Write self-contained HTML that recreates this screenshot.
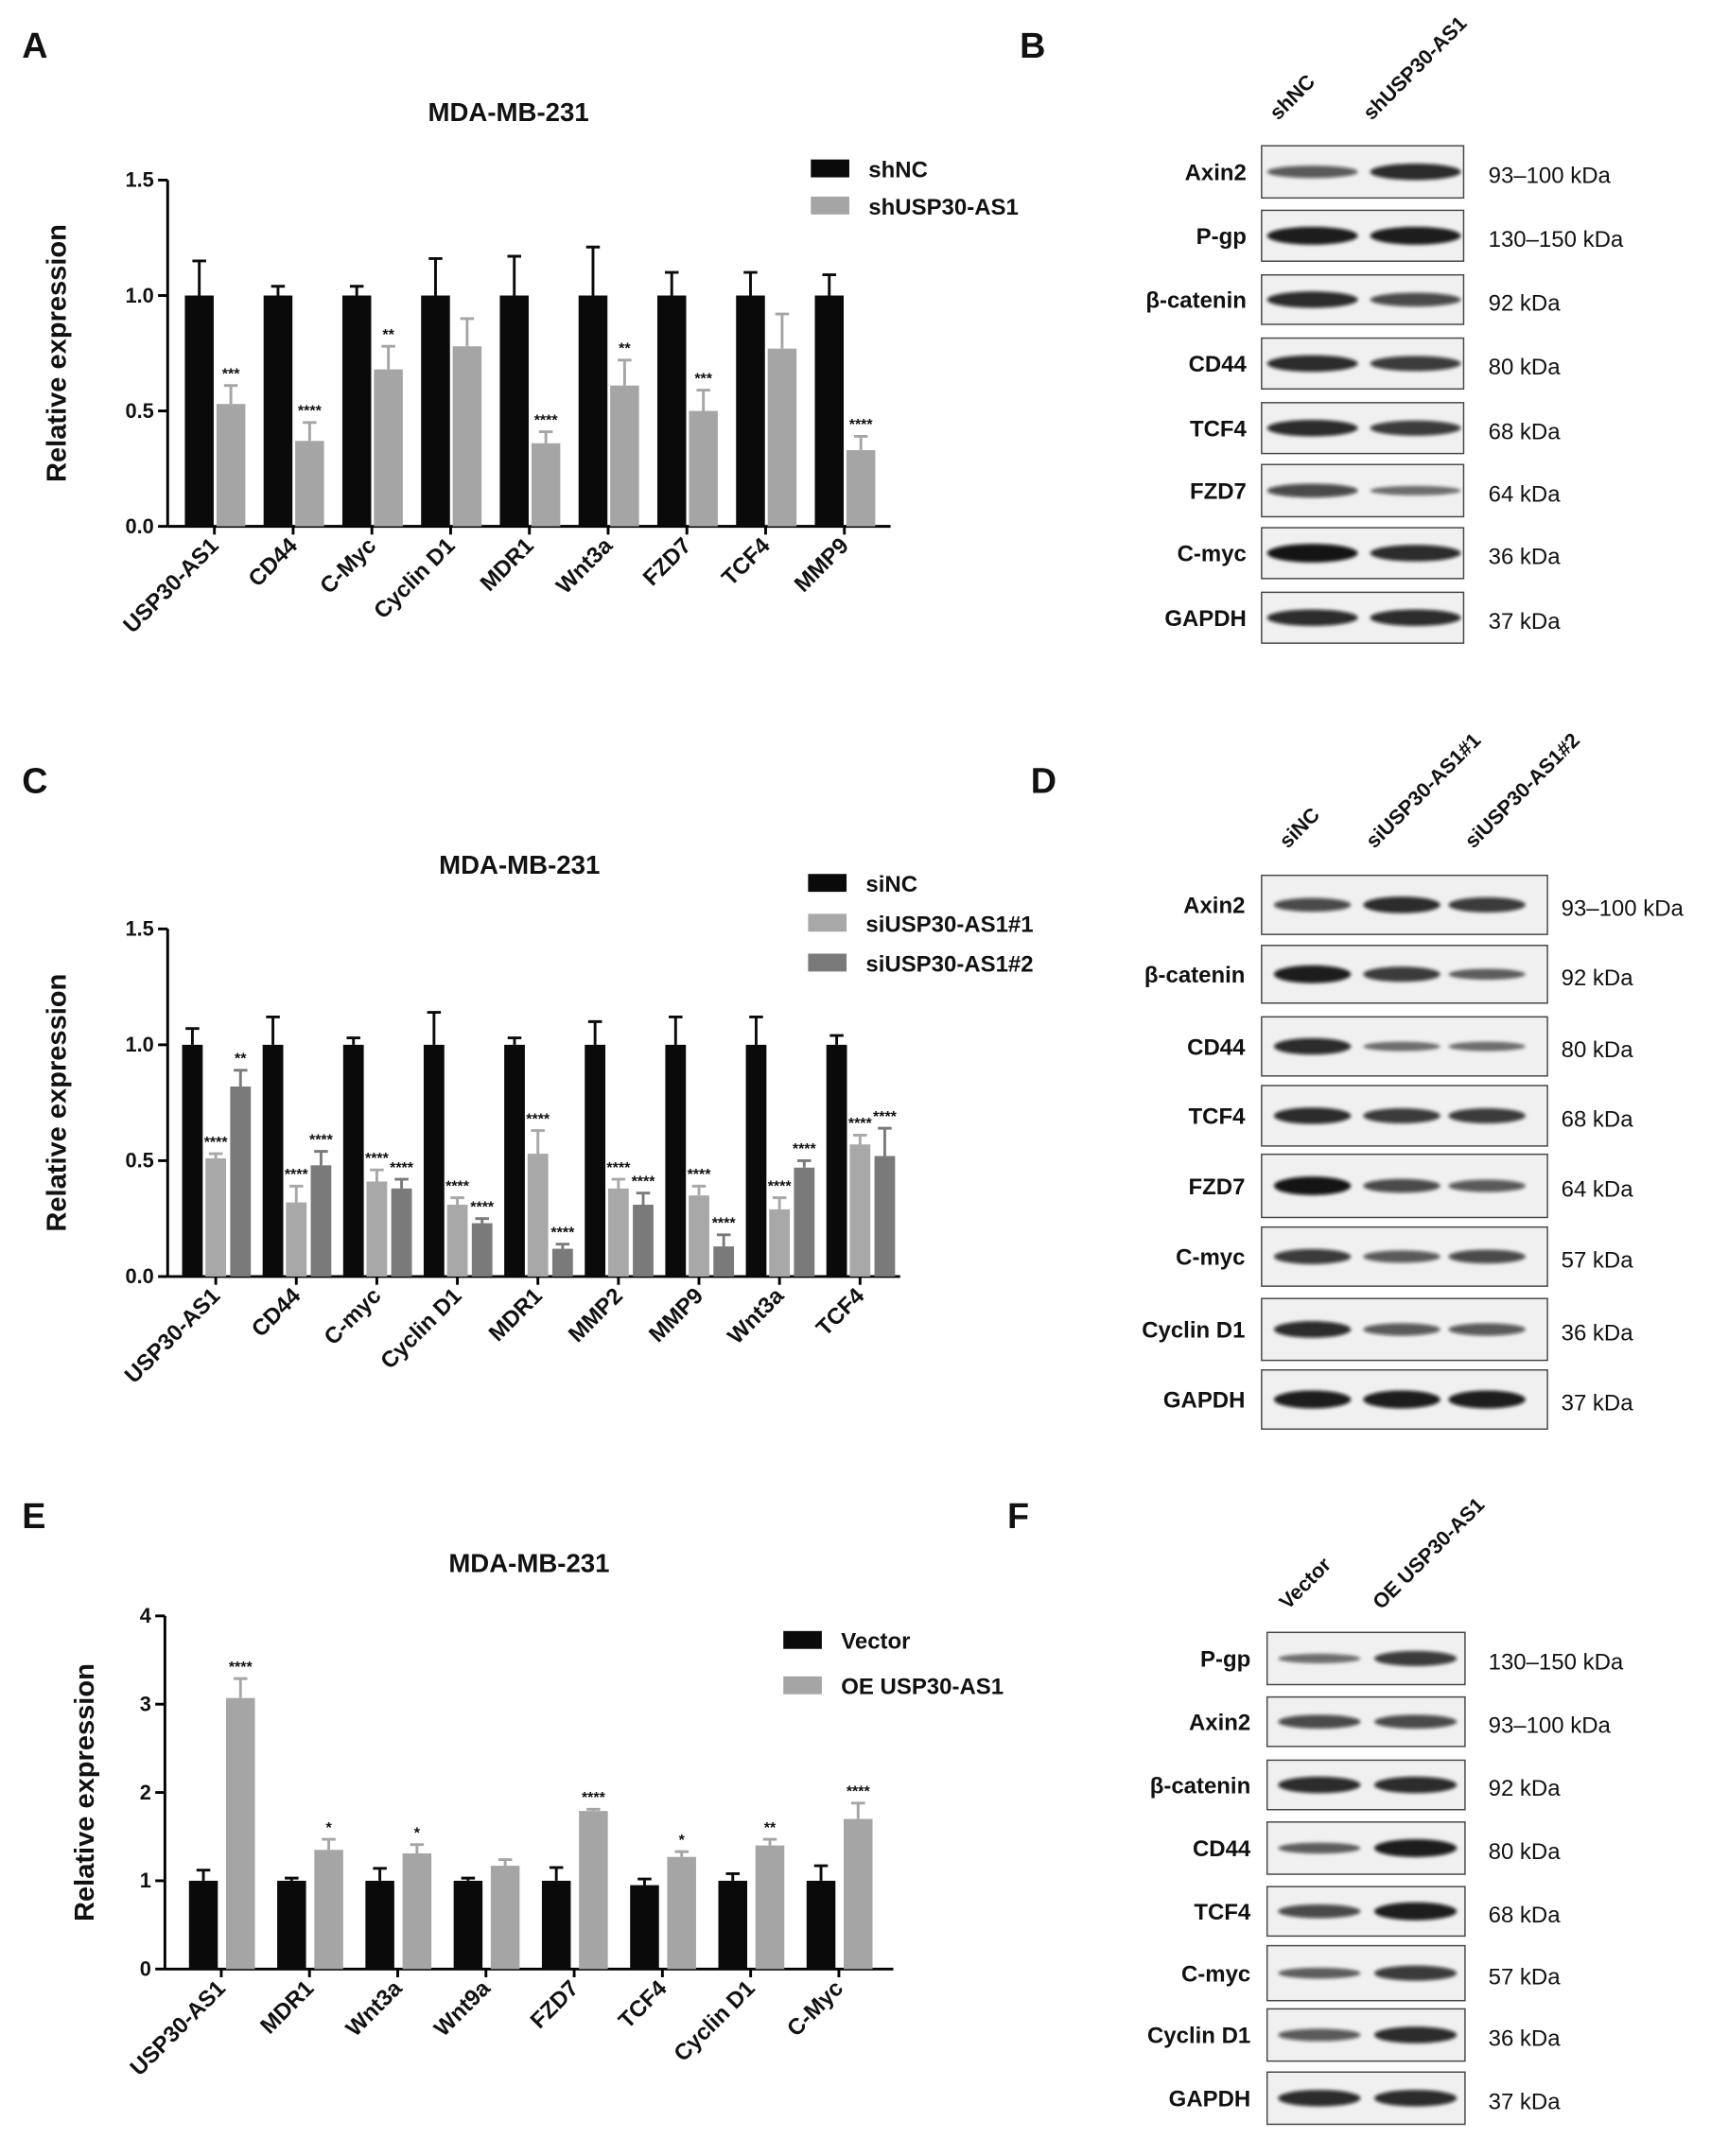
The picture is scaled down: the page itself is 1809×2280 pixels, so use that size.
<!DOCTYPE html>
<html><head><meta charset="utf-8">
<style>
html,body{margin:0;padding:0;background:#fff;}
svg{display:block;font-family:"Liberation Sans",Arial,sans-serif;}
</style></head>
<body>
<svg id="fig" width="1809" height="2280" viewBox="0 0 1245 1569" xmlns="http://www.w3.org/2000/svg">
<defs><filter id="blur" x="-20%" y="-50%" width="140%" height="200%"><feGaussianBlur stdDeviation="1.3"/></filter></defs>
<g id="root"></g>
</svg>
<script>
// ---- Panel A data ----
const catsA = ["USP30-AS1","CD44","C-Myc","Cyclin D1","MDR1","Wnt3a","FZD7","TCF4","MMP9"];
const shNC = [1,1,1,1,1,1,1,1,1];
const shNCErr = [0.15,0.04,0.04,0.16,0.17,0.21,0.1,0.1,0.09];
const shUSP = [0.53,0.37,0.68,0.78,0.36,0.61,0.5,0.77,0.33];
const shUSPErr = [0.08,0.08,0.1,0.12,0.05,0.11,0.09,0.15,0.06];
const sigA = ["***","****","**","","****","**","***","","****"];
const ticksA = [0,0.5,1.0,1.5];
// ---- Panel C data ----
const catsC = ["USP30-AS1","CD44","C-myc","Cyclin D1","MDR1","MMP2","MMP9","Wnt3a","TCF4"];
const siNC = [1,1,1,1,1,1,1,1,1];
const siNCErr = [0.07,0.12,0.03,0.14,0.03,0.1,0.12,0.12,0.04];
const si1 = [0.51,0.32,0.41,0.31,0.53,0.38,0.35,0.29,0.57];
const si1Err = [0.02,0.07,0.05,0.03,0.1,0.04,0.04,0.05,0.04];
const si2 = [0.82,0.48,0.38,0.23,0.12,0.31,0.13,0.47,0.52];
const si2Err = [0.07,0.06,0.04,0.02,0.02,0.05,0.05,0.03,0.12];
const sigC1 = ["****","****","****","****","****","****","****","****","****"];
const sigC2 = ["**","****","****","****","****","****","****","****","****"];
const ticksC = [0,0.5,1.0,1.5];
// ---- Panel E data ----
const catsE = ["USP30-AS1","MDR1","Wnt3a","Wnt9a","FZD7","TCF4","Cyclin D1","C-Myc"];
const vec = [1,1,1,1,1,0.95,1,1];
const vecErr = [0.12,0.03,0.14,0.03,0.15,0.07,0.08,0.17];
const oe = [3.07,1.35,1.31,1.17,1.79,1.27,1.4,1.7];
const oeErr = [0.22,0.12,0.1,0.07,0.02,0.06,0.07,0.18];
const sigE = ["****","*","*","","****","*","**","****"];
const ticksE = [0,1,2,3,4];

const NS="http://www.w3.org/2000/svg";
const root=document.getElementById('root');
function mk(tag,attrs,parent,text){const e=document.createElementNS(NS,tag);for(const k in attrs)e.setAttribute(k,attrs[k]);if(text!==undefined)e.textContent=text;(parent||root).appendChild(e);return e;}

function txt(x,y,s,size,opts,name){
  const t=mk('text',Object.assign({x:x,y:y,'font-size':size,'font-weight':'bold',fill:'#111'},opts||{}),root,s);
  
  
  return t;
}

function barChart(cfg){
  const {x0,x1,y0,yTop,maxV,ticks,cats,series,colors,errs,sigs,start,step,offsets,bw,title,titleX,titleY,catLabelY} = cfg;
  const ys=v=>y0-(v/maxV)*(y0-yTop);
  const g=mk('g',{});
  
  
  const ax=mk('line',{x1:x0,y1:yTop,x2:x0,y2:y0,stroke:'#000','stroke-width':2},g);
  
  
  const axx=mk('line',{x1:x0,y1:y0,x2:x1,y2:y0,stroke:'#000','stroke-width':2},g);
  
  
  ticks.forEach(t=>{
    const tl=mk('line',{x1:x0-7,y1:ys(t),x2:x0,y2:ys(t),stroke:'#000','stroke-width':2},g);
    
    
    txt(x0-10,ys(t)+5,cfg.fmt(t),15,{'text-anchor':'end'},'y-tick-label');
  });
  cats.forEach((c,i)=>{
    const cx=start+i*step;
    const tk=mk('line',{x1:cx+cfg.tickOff,y1:y0,x2:cx+cfg.tickOff,y2:y0+6,stroke:'#000','stroke-width':2},g);
    
    
    txt(cx+cfg.tickOff+4,catLabelY,c,16.5,{'text-anchor':'end',transform:`rotate(-45 ${cx+cfg.tickOff+4} ${catLabelY})`},'x-tick-label');
    series.forEach((s,k)=>{
      const bx=cx+offsets[k]-bw/2, v=s[i], top=ys(v);
      const r=mk('rect',{x:bx,y:top,width:bw,height:y0-top,fill:colors[k]},g);
      
      
      const et=ys(v+errs[k][i]);
      const el=mk('path',{d:`M${bx+bw/2},${top}V${et}M${bx+bw/2-5},${et}H${bx+bw/2+5}`,stroke:colors[k],'stroke-width':2,fill:'none'},g);
      
      
      if(sigs[k] && sigs[k][i]) txt(bx+bw/2,et-5,sigs[k][i],11,{'text-anchor':'middle'},'significance');
    });
  });
  txt(titleX,titleY,title,19,{'text-anchor':'middle'},'chart-title');
  txt(0,0,'Relative expression',20,{'text-anchor':'middle',transform:`translate(${cfg.ylx} ${(y0+yTop)/2}) rotate(-90)`},'y-axis-title');
  cfg.legend.forEach((l,k)=>{
    const r=mk('rect',{x:cfg.legX,y:cfg.legY+k*cfg.legStep-7,width:28,height:13,fill:colors[k]},g);
    
    
    txt(cfg.legX+42,cfg.legY+k*cfg.legStep+6,l,16.5,{},'legend-entry');
  });
}

barChart({name:'chart-a',x0:122,x1:648,y0:383,yTop:131,maxV:1.5,ticks:ticksA,fmt:t=>t.toFixed(1),cats:catsA,
  series:[shNC,shUSP],errs:[shNCErr,shUSPErr],sigs:[null,sigA],colors:['#0a0a0a','#a5a5a5'],
  start:145,step:57.3,offsets:[0,23],bw:21,tickOff:11,catLabelY:398,title:'MDA-MB-231',titleX:370,titleY:88,ylx:48,
  legend:['shNC','shUSP30-AS1'],legX:590,legY:123,legStep:27});
barChart({name:'chart-c',x0:122,x1:655,y0:929,yTop:676,maxV:1.5,ticks:ticksC,fmt:t=>t.toFixed(1),cats:catsC,
  series:[siNC,si1,si2],errs:[siNCErr,si1Err,si2Err],sigs:[null,sigC1,sigC2],colors:['#0a0a0a','#a8a8a8','#7a7a7a'],
  start:140,step:58.6,offsets:[0,17,35],bw:15,tickOff:17,catLabelY:944,title:'MDA-MB-231',titleX:378,titleY:636,ylx:48,
  legend:['siNC','siUSP30-AS1#1','siUSP30-AS1#2'],legX:588,legY:643,legStep:29});
barChart({name:'chart-e',x0:120,x1:650,y0:1433,yTop:1176,maxV:4,ticks:ticksE,fmt:t=>String(t),cats:catsE,
  series:[vec,oe],errs:[vecErr,oeErr],sigs:[null,sigE],colors:['#0a0a0a','#a5a5a5'],
  start:148,step:64.2,offsets:[0,27],bw:21,tickOff:13,catLabelY:1448,title:'MDA-MB-231',titleX:385,titleY:1144,ylx:68,
  legend:['Vector','OE USP30-AS1'],legX:570,legY:1194,legStep:33});

[['A',16,42],['B',742,42],['C',16,577],['D',750,577],['E',16,1112],['F',733,1112]].forEach(p=>txt(p[1],p[2],p[0],26,{},'panel-letter-'+p[0]));

function blot(cfg){
  const g=mk('g',{});
  
  
  cfg.lanes.forEach((l,i)=>txt(cfg.laneX[i],cfg.headY,l,15,{transform:`rotate(-45 ${cfg.laneX[i]} ${cfg.headY})`},'lane-label'));
  cfg.rows.forEach((r,j)=>{
    const [name,y1,y2,kda,dens]=r;
    const bx=mk('rect',{x:cfg.bx0,y:y1,width:cfg.bx1-cfg.bx0,height:y2-y1,fill:'#f0f0f0',stroke:'#444','stroke-width':1},g);
    
    
    const cy=(y1+y2)/2;
    dens.forEach((d,i)=>{
      const e=mk('ellipse',{cx:cfg.bandX[i],cy:cy,rx:cfg.bandW,ry:2+d*5,fill:'#0a0a0a','fill-opacity':0.35+0.65*d,filter:'url(#blur)'},g);
      
      
    });
    txt(cfg.labelX,cy+6,name,16.5,{'text-anchor':'end'},'protein-label');
    txt(cfg.kdaX,cy+8,kda,16.5,{'font-weight':'normal'},'kda-label');
  });
}
blot({name:'blot-b',lanes:['shNC','shUSP30-AS1'],laneX:[930,998],headY:88,bx0:918,bx1:1065,bandX:[955,1030],bandW:33,labelX:907,kdaX:1083,
  rows:[['Axin2',106,144,'93–100 kDa',[0.5,0.8]],['P-gp',153,190,'130–150 kDa',[0.9,0.9]],['β-catenin',200,236,'92 kDa',[0.8,0.6]],
  ['CD44',246,283,'80 kDa',[0.8,0.7]],['TCF4',293,330,'68 kDa',[0.8,0.7]],['FZD7',338,376,'64 kDa',[0.6,0.3]],
  ['C-myc',384,421,'36 kDa',[0.95,0.8]],['GAPDH',431,468,'37 kDa',[0.8,0.8]]]});
blot({name:'blot-d',lanes:['siNC','siUSP30-AS1#1','siUSP30-AS1#2'],laneX:[937,1000,1072],headY:618,bx0:918,bx1:1126,bandX:[955,1020,1082],bandW:28,labelX:906,kdaX:1136,
  rows:[['Axin2',637,680,'93–100 kDa',[0.6,0.8,0.7]],['β-catenin',688,730,'92 kDa',[0.9,0.7,0.4]],['CD44',740,783,'80 kDa',[0.8,0.3,0.3]],
  ['TCF4',790,834,'68 kDa',[0.8,0.7,0.7]],['FZD7',840,886,'64 kDa',[0.95,0.6,0.5]],['C-myc',893,936,'57 kDa',[0.7,0.5,0.6]],
  ['Cyclin D1',945,990,'36 kDa',[0.8,0.5,0.5]],['GAPDH',997,1040,'37 kDa',[0.9,0.9,0.9]]]});
blot({name:'blot-f',lanes:['Vector','OE USP30-AS1'],laneX:[937,1005],headY:1172,bx0:922,bx1:1066,bandX:[960,1030],bandW:30,labelX:910,kdaX:1083,
  rows:[['P-gp',1188,1226,'130–150 kDa',[0.3,0.7]],['Axin2',1235,1271,'93–100 kDa',[0.6,0.6]],['β-catenin',1281,1317,'92 kDa',[0.8,0.8]],
  ['CD44',1326,1364,'80 kDa',[0.4,0.9]],['TCF4',1373,1409,'68 kDa',[0.6,0.9]],['C-myc',1416,1456,'57 kDa',[0.4,0.7]],
  ['Cyclin D1',1462,1500,'36 kDa',[0.5,0.8]],['GAPDH',1508,1546,'37 kDa',[0.8,0.8]]]});
</script>
</body></html>
